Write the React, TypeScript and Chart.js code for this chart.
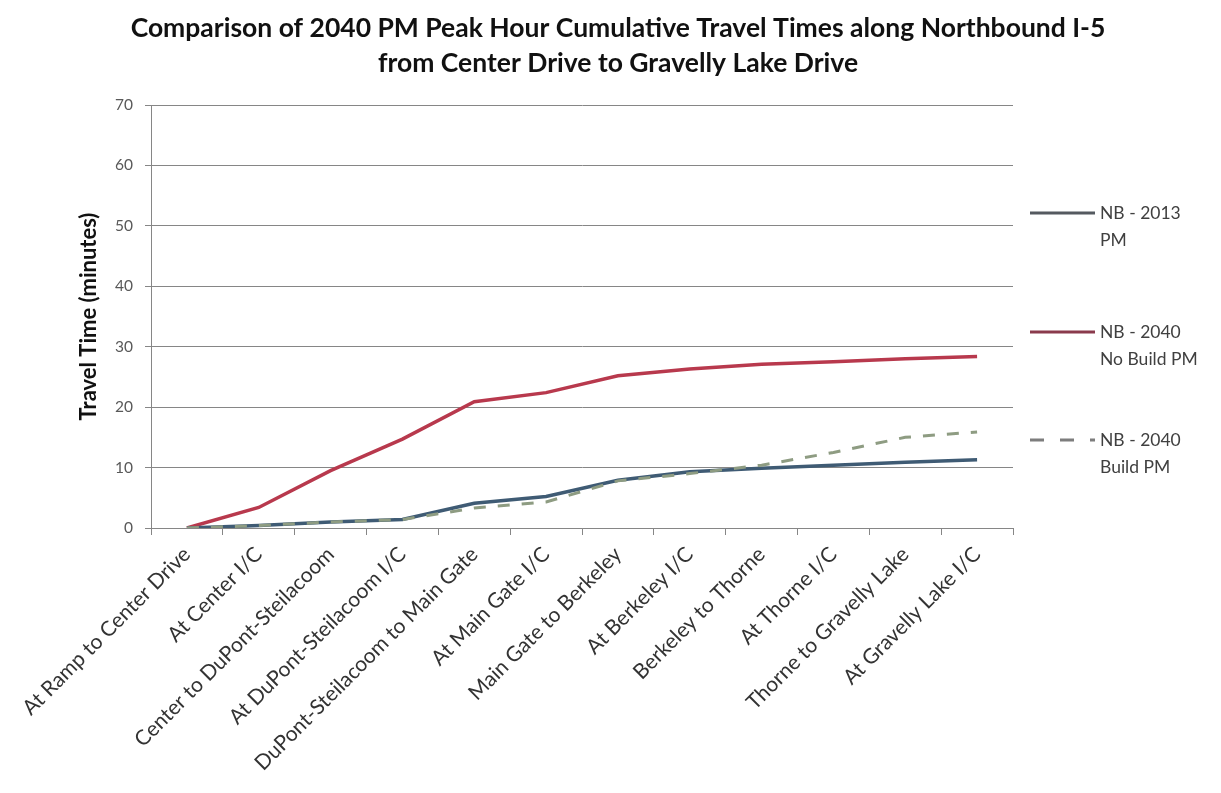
import React, { useEffect, useRef } from "react";
import { Chart, registerables } from "chart.js";

Chart.register(...registerables);

const categories = [
  "At Ramp to Center Drive",
  "At Center I/C",
  "Center to DuPont-Steilacoom",
  "At DuPont-Steilacoom I/C",
  "DuPont-Steilacoom to Main Gate",
  "At Main Gate I/C",
  "Main Gate to Berkeley",
  "At Berkeley I/C",
  "Berkeley to Thorne",
  "At Thorne I/C",
  "Thorne to Gravelly Lake",
  "At Gravelly Lake I/C",
];

const nb2013 = [0, 0.4, 1.0, 1.4, 4.1, 5.2, 7.9, 9.3, 9.9, 10.4, 10.9, 11.3];
const nb2040NoBuild = [0, 3.4, 9.5, 14.7, 20.9, 22.4, 25.2, 26.3, 27.1, 27.5, 28.0, 28.4];
const nb2040Build = [0, 0.4, 1.0, 1.4, 3.3, 4.3, 7.8, 9.0, 10.4, 12.5, 15.0, 15.9];

const yTicks = [0, 10, 20, 30, 40, 50, 60, 70];

const titleLines = [
  "Comparison of 2040 PM Peak Hour Cumulative Travel Times along Northbound I-5",
  "from Center Drive to Gravelly Lake Drive",
];

const legendItems = [
  { lines: ["NB - 2013", "PM"], color: "#555a60", dash: [] as number[] },
  { lines: ["NB - 2040", "No Build PM"], color: "#8a3a4c", dash: [] as number[] },
  { lines: ["NB - 2040", "Build PM"], color: "#7d7d7d", dash: [14, 16] },
];

const FONT = "Lato, 'Open Sans', sans-serif";

const decorPlugin = {
  id: "decor",
  afterDraw(chart: any) {
    const ctx = chart.ctx;
    const area = chart.chartArea;
    ctx.save();
    // title
    ctx.fillStyle = "#111";
    ctx.font = "bold 26.5px " + FONT;
    ctx.textAlign = "center";
    ctx.textBaseline = "middle";
    titleLines.forEach((t, i) => {
      ctx.fillText(t, 618, 28 + i * 35);
    });
    // legend
    const x0 = area.right + 17;
    const tops = [213, 332, 440];
    legendItems.forEach((item, i) => {
      const y = tops[i];
      ctx.beginPath();
      ctx.strokeStyle = item.color;
      ctx.lineWidth = 3;
      ctx.setLineDash(item.dash);
      ctx.moveTo(x0, y);
      ctx.lineTo(x0 + 65, y);
      ctx.stroke();
      ctx.setLineDash([]);
      ctx.fillStyle = "#404040";
      ctx.font = "17.5px " + FONT;
      ctx.textBaseline = "middle";
      ctx.textAlign = "left";
      item.lines.forEach((t, j) => {
        ctx.fillText(t, x0 + 70, y + j * 27);
      });
    });
    ctx.restore();
  },
};

export default function App() {
  const ref = useRef<HTMLCanvasElement | null>(null);

  useEffect(() => {
    document.body.style.margin = "0";
    const canvas = ref.current;
    if (!canvas) return;
    const chart = new Chart(canvas, {
      type: "line",
      data: {
        labels: categories,
        datasets: [
          {
            label: "NB - 2040 Build PM",
            data: nb2040Build,
            borderColor: "#8e9c82",
            borderWidth: 3,
            borderDash: [12, 12],
            pointRadius: 0,
            tension: 0,
            fill: false,
            order: 0,
          },
          {
            label: "NB - 2013 PM",
            data: nb2013,
            borderColor: "#3f5b74",
            borderWidth: 3.5,
            pointRadius: 0,
            tension: 0,
            fill: false,
            order: 1,
          },
          {
            label: "NB - 2040 No Build PM",
            data: nb2040NoBuild,
            borderColor: "#b8394d",
            borderWidth: 3.5,
            pointRadius: 0,
            tension: 0,
            fill: false,
            order: 2,
          },
        ],
      },
      options: {
        responsive: true,
        maintainAspectRatio: false,
        animation: false,
        layout: { padding: { left: 76, right: 208, top: 105, bottom: 0 } },
        plugins: {
          legend: { display: false },
          tooltip: { enabled: false },
          title: { display: false },
        },
        scales: {
          x: {
            type: "category",
            offset: true,
            grid: {
              offset: true,
              drawOnChartArea: false,
              drawTicks: true,
              tickLength: 7,
              color: "#868686",
            },
            border: { color: "#868686", width: 1 },
            ticks: {
              autoSkip: false,
              maxRotation: 45,
              minRotation: 45,
              color: "#333",
              font: { family: FONT, size: 21 },
              padding: 7,
            },
            afterFit(scale: any) {
              scale.height = 265;
            },
          },
          y: {
            min: 0,
            max: 70,
            afterBuildTicks(scale: any) {
              scale.ticks = yTicks.map((v) => ({ value: v }));
            },
            grid: {
              color: "#868686",
              tickLength: 6,
              lineWidth: 1,
            },
            border: { color: "#868686", width: 1 },
            ticks: {
              color: "#595959",
              font: { family: FONT, size: 15.5 },
              padding: 12,
            },
            title: {
              display: true,
              text: "Travel Time (minutes)",
              color: "#111",
              font: { family: FONT, size: 22, weight: "bold" },
              padding: { top: 0, bottom: 0 },
            },
            afterFit(scale: any) {
              scale.width = 75;
            },
          },
        },
      },
      plugins: [decorPlugin],
    });
    return () => chart.destroy();
  }, []);

  return (
    <div style={{ width: 1221, height: 793, position: "relative", background: "#fff" }}>
      <canvas ref={ref} />
    </div>
  );
}
